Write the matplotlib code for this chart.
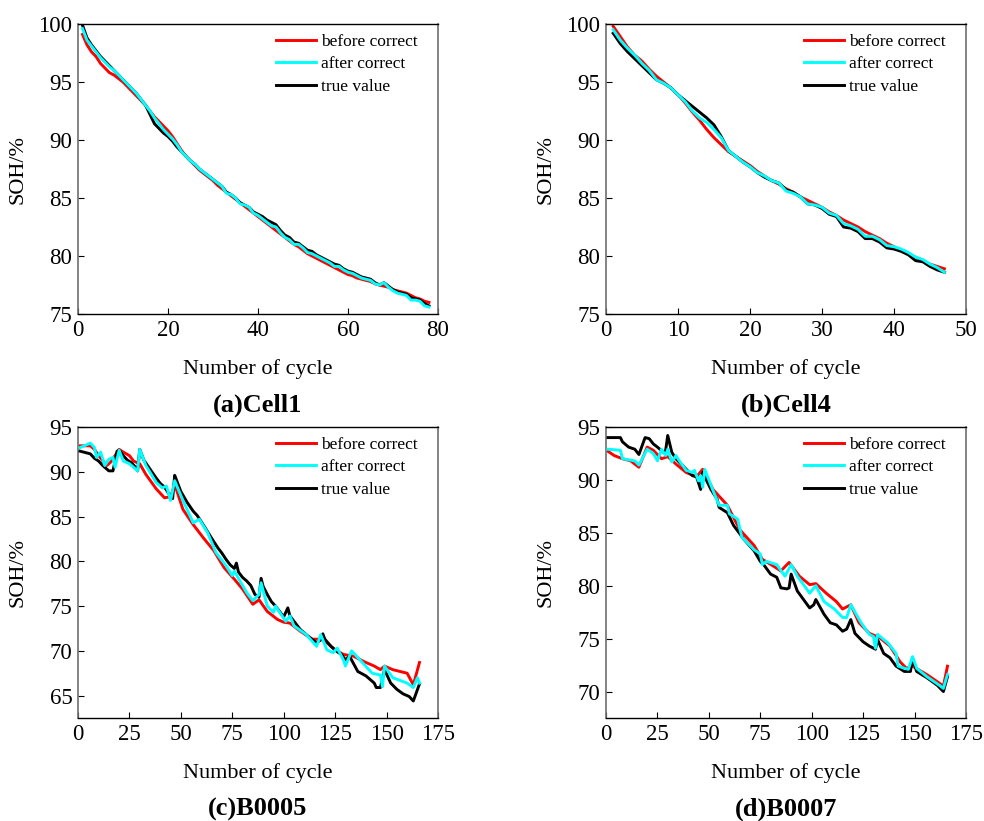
import matplotlib
matplotlib.use("Agg")
import matplotlib.pyplot as plt

plt.rcParams["font.family"] = ["Liberation Serif", "DejaVu Serif"]

## (a) Cell1
cyc_a = list(range(1, 79))
before_a = [99.1, 98.2, 97.6, 97.2, 96.6, 96.2, 95.8, 95.6, 95.3, 95.0,
            94.6, 94.2, 93.8, 93.4, 93.0, 92.5, 92.0, 91.6, 91.2, 90.8,
            90.3, 89.7, 89.1, 88.6, 88.2, 87.8, 87.4, 87.1, 86.8, 86.5,
            86.1, 85.8, 85.5, 85.2, 84.9, 84.6, 84.3, 84.0, 83.7, 83.4,
            83.1, 82.8, 82.5, 82.2, 81.9, 81.6, 81.3, 81.0, 80.8, 80.5,
            80.2, 80.0, 79.8, 79.6, 79.4, 79.2, 79.0, 78.8, 78.6, 78.4,
            78.3, 78.1, 78.0, 77.9, 77.8, 77.6, 77.5, 77.4, 77.3, 77.1,
            77.0, 76.9, 76.8, 76.6, 76.4, 76.3, 76.1, 76.0]
after_a = [99.6, 98.6, 98.1, 97.6, 97.1, 96.7, 96.3, 96.0, 95.6, 95.2,
           94.8, 94.4, 94.0, 93.5, 93.0, 92.5, 91.9, 91.4, 90.9, 90.5,
           90.1, 89.6, 89.0, 88.6, 88.2, 87.9, 87.5, 87.2, 86.9, 86.6,
           86.3, 86.0, 85.4, 85.3, 85.0, 84.5, 84.4, 84.2, 83.7, 83.5,
           83.2, 82.9, 82.6, 82.5, 82.0, 81.6, 81.4, 81.0, 81.0, 80.7,
           80.3, 80.2, 80.0, 79.8, 79.6, 79.4, 79.1, 79.1, 78.8, 78.6,
           78.5, 78.3, 78.1, 78.0, 77.9, 77.6, 77.5, 77.7, 77.3, 77.0,
           76.8, 76.7, 76.6, 76.2, 76.2, 76.1, 75.7, 75.6]
true_a = [99.9, 98.8, 98.2, 97.7, 97.2, 96.8, 96.4, 96.0, 95.6, 95.2,
          94.8, 94.4, 94.0, 93.5, 93.0, 92.2, 91.4, 91.0, 90.6, 90.3,
          89.9, 89.4, 89.0, 88.6, 88.2, 87.9, 87.5, 87.2, 86.9, 86.6,
          86.3, 86.0, 85.5, 85.3, 85.0, 84.6, 84.4, 84.2, 83.8, 83.6,
          83.4, 83.1, 82.9, 82.7, 82.2, 81.8, 81.6, 81.2, 81.1, 80.8,
          80.5, 80.4, 80.1, 79.9, 79.7, 79.5, 79.3, 79.2, 78.9, 78.7,
          78.6, 78.4, 78.2, 78.1, 78.0, 77.7, 77.5, 77.7, 77.4, 77.1,
          76.9, 76.8, 76.7, 76.4, 76.3, 76.2, 75.9, 75.7]

## (b) Cell4
cyc_b = list(range(1, 48))
before_b = [99.8, 98.9, 98.0, 97.3, 96.8, 96.1, 95.5, 95.0, 94.5, 93.9,
            93.2, 92.4, 91.7, 90.9, 90.2, 89.6, 89.0, 88.6, 88.2, 87.8,
            87.3, 86.9, 86.5, 86.2, 85.8, 85.5, 85.1, 84.8, 84.5, 84.2,
            83.8, 83.5, 83.1, 82.8, 82.5, 82.1, 81.8, 81.5, 81.1, 80.8,
            80.5, 80.2, 79.9, 79.6, 79.3, 79.1, 78.9]
after_b = [99.5, 98.6, 97.9, 97.3, 96.6, 96.0, 95.2, 94.9, 94.5, 93.9,
           93.3, 92.5, 91.9, 91.5, 90.9, 90.2, 89.1, 88.6, 88.1, 87.7,
           87.2, 86.9, 86.5, 86.3, 85.6, 85.4, 85.1, 84.5, 84.4, 84.2,
           83.7, 83.5, 82.8, 82.6, 82.3, 81.7, 81.7, 81.4, 80.9, 80.8,
           80.6, 80.3, 79.9, 79.7, 79.3, 79.0, 78.6]
true_b = [99.2, 98.3, 97.6, 97.0, 96.4, 95.8, 95.2, 94.9, 94.5, 93.9,
          93.4, 92.9, 92.4, 91.9, 91.3, 90.3, 89.1, 88.6, 88.1, 87.7,
          87.2, 86.8, 86.5, 86.3, 85.7, 85.5, 85.1, 84.5, 84.4, 84.1,
          83.6, 83.4, 82.5, 82.4, 82.1, 81.5, 81.5, 81.2, 80.7, 80.6,
          80.4, 80.1, 79.6, 79.5, 79.1, 78.8, 78.6]

## (c) B0005
cyc_c_before = [1, 6, 8, 10, 14, 16, 20, 22, 25, 27, 30, 33, 38, 42, 45, 47,
                51, 56, 61, 66, 71, 76, 80, 85, 88, 92, 97, 100, 103, 108,
                114, 119, 124, 129, 134, 139, 144, 147, 149, 153, 160, 163, 166]
before_c = [92.9, 92.9, 92.5, 91.8, 90.7, 91.1, 92.5, 92.2, 91.8, 91.2,
            90.9, 89.7, 88.1, 87.1, 87.2, 88.6, 85.8, 84.1, 82.6, 81.2,
            79.3, 78.0, 76.9, 75.2, 75.7, 74.4, 73.5, 73.2, 73.1, 72.2,
            71.3, 71.3, 70.3, 69.6, 69.4, 68.8, 68.3, 67.9, 68.3, 67.9,
            67.5, 66.2, 68.7]
cyc_c_after = [1, 6, 8, 9, 11, 13, 15, 17, 18, 20, 22, 25, 28, 29, 30, 33,
               38, 41, 43, 45, 47, 51, 56, 59, 63, 67, 72, 75, 76, 82, 85,
               88, 89, 92, 95, 96, 101, 103, 105, 111, 116, 118, 121, 124,
               126, 129, 130, 133, 137, 143, 147, 148, 149, 153, 160, 163,
               165, 166]
after_c = [92.7, 93.2, 92.7, 91.6, 92.2, 90.7, 91.4, 91.6, 90.5, 92.4,
           91.2, 90.9, 90.3, 90.1, 92.5, 90.7, 88.8, 88.2, 88.4, 86.8,
           89.0, 86.8, 84.3, 84.7, 83.2, 81.0, 79.5, 78.4, 78.9, 76.5,
           75.6, 76.3, 77.6, 75.0, 74.3, 75.0, 73.3, 73.9, 72.8, 71.8,
           70.5, 71.8, 70.1, 69.8, 70.3, 69.0, 68.3, 70.0, 69.0, 67.5,
           67.3, 66.0, 68.3, 67.0, 66.4, 65.9, 67.0, 66.4]
cyc_c_true = [1, 6, 8, 10, 12, 15, 17, 19, 20, 22, 24, 26, 28, 29, 30, 32,
              35, 38, 40, 42, 44, 46, 47, 48, 50, 53, 56, 58, 60, 63, 66,
              68, 70, 72, 74, 76, 77, 78, 80, 82, 84, 86, 88, 89, 90, 92,
              94, 96, 98, 100, 102, 103, 105, 108, 110, 113, 116, 118, 119,
              120, 123, 126, 128, 130, 132, 136, 140, 144, 145, 147, 149,
              152, 155, 158, 161, 163, 166]
true_c = [92.3, 92.0, 91.5, 91.2, 90.7, 90.1, 90.1, 92.3, 92.4, 91.8,
          91.3, 91.0, 90.5, 90.1, 92.5, 91.3, 90.3, 89.3, 88.7, 88.3,
          87.6, 87.0, 89.6, 89.0, 87.8, 86.6, 85.6, 85.1, 84.4, 83.3,
          82.2, 81.5, 80.9, 80.2, 79.6, 79.2, 79.8, 78.8, 78.2, 77.8,
          77.3, 76.3, 76.0, 78.1, 77.2, 76.3, 75.5, 75.0, 74.4, 73.8,
          74.8, 73.9, 73.3, 72.4, 72.0, 71.4, 70.9, 71.2, 71.9, 71.3,
          70.5, 69.9, 69.6, 69.0, 69.4, 67.7, 67.2, 66.4, 65.9, 65.9,
          67.9, 66.4, 65.7, 65.2, 64.9, 64.4, 66.3]

## (d) B0007
cyc_d_before = [1, 4, 8, 12, 16, 20, 23, 27, 30, 34, 39, 44, 47, 52, 59, 65,
                72, 76, 81, 85, 89, 94, 99, 102, 107, 112, 115, 119, 123,
                128, 133, 138, 143, 146, 149, 156, 162, 164, 166]
before_d = [92.7, 92.3, 92.0, 91.8, 91.2, 93.1, 92.8, 92.0, 92.2, 91.5,
            90.7, 90.3, 91.0, 89.1, 87.6, 85.3, 83.8, 82.5, 81.9, 81.4,
            82.2, 80.9, 80.1, 80.2, 79.3, 78.5, 77.8, 78.2, 76.5, 75.5,
            75.1, 74.3, 72.8, 72.2, 72.4, 71.6, 70.8, 70.5, 72.4]
cyc_d_after = [1, 7, 8, 14, 16, 20, 23, 25, 27, 29, 30, 32, 34, 36, 39, 42,
               43, 45, 46, 47, 48, 52, 55, 59, 60, 64, 66, 72, 75, 76, 78,
               83, 87, 90, 93, 99, 102, 106, 111, 115, 117, 119, 124, 128,
               130, 131, 132, 137, 141, 142, 145, 147, 149, 151, 156, 162,
               164, 166]
after_d = [92.9, 92.8, 92.0, 91.8, 91.4, 92.9, 92.5, 91.8, 92.9, 92.3,
           92.9, 91.7, 92.3, 91.7, 90.9, 90.7, 90.9, 89.9, 90.4, 89.3,
           91.0, 89.0, 87.6, 87.6, 86.8, 86.3, 84.6, 83.4, 83.0, 82.0,
           82.3, 82.0, 80.9, 82.0, 80.9, 79.3, 80.0, 78.5, 77.8, 77.0,
           77.0, 78.2, 76.5, 75.4, 75.2, 74.1, 75.4, 74.6, 73.6, 72.4,
           72.2, 72.1, 73.3, 72.2, 71.4, 70.6, 70.3, 71.6]
cyc_d_true = [1, 7, 8, 11, 14, 16, 19, 21, 23, 25, 28, 29, 30, 32, 34, 38,
              42, 44, 46, 47, 51, 54, 55, 59, 62, 67, 72, 75, 77, 80, 83,
              85, 88, 89, 90, 93, 96, 99, 101, 102, 106, 109, 112, 115,
              117, 119, 121, 125, 128, 131, 132, 135, 138, 141, 145, 148,
              149, 151, 156, 161, 164, 166]
true_d = [94.0, 94.0, 93.6, 93.1, 92.9, 92.4, 94.0, 93.9, 93.4, 93.1,
          92.6, 92.8, 94.2, 92.6, 92.0, 91.2, 90.4, 90.3, 89.1, 90.7,
          89.1, 88.2, 87.4, 86.9, 85.7, 84.4, 83.3, 82.3, 81.9, 81.1,
          80.8, 79.8, 79.7, 79.8, 81.1, 79.5, 78.7, 77.9, 78.2, 78.7,
          77.3, 76.5, 76.3, 75.7, 75.9, 76.8, 75.5, 74.7, 74.3, 74.0,
          74.9, 73.6, 73.2, 72.4, 71.9, 71.9, 73.2, 71.9, 71.3, 70.6,
          70.0, 71.4]

panels = [
    ("(a)Cell1", (cyc_a, before_a), (cyc_a, after_a), (cyc_a, true_a),
     (0, 80), range(0, 81, 20), (75, 100), range(75, 101, 5)),
    ("(b)Cell4", (cyc_b, before_b), (cyc_b, after_b), (cyc_b, true_b),
     (0, 50), range(0, 51, 10), (75, 100), range(75, 101, 5)),
    ("(c)B0005", (cyc_c_before, before_c), (cyc_c_after, after_c), (cyc_c_true, true_c),
     (0, 175), range(0, 176, 25), (62.5, 95), range(65, 96, 5)),
    ("(d)B0007", (cyc_d_before, before_d), (cyc_d_after, after_d), (cyc_d_true, true_d),
     (0, 175), range(0, 176, 25), (67.5, 95), range(70, 96, 5)),
]

W, H = 984, 821
# axes boxes in pixels: left, top, width, height
boxes = [(78, 24, 360, 290), (606, 24, 360, 290),
         (78, 427, 360, 291), (606, 427, 360, 291)]

fig = plt.figure(figsize=(W / 100, H / 100), dpi=100)

for (title, bef, aft, tru, xl, xt, yl, yt), (l, t, w, h) in zip(panels, boxes):
    ax = fig.add_axes([l / W, 1 - (t + h) / H, w / W, h / H])
    lw = 2.1
    l1, = ax.plot(bef[0], bef[1], color="#ff0000", lw=lw, zorder=2, label="before correct")
    l3, = ax.plot(tru[0], tru[1], color="black", lw=lw, zorder=3, label="true value")
    l2, = ax.plot(aft[0], aft[1], color="#00ffff", lw=lw, zorder=4, label="after correct")
    ax.set_xlim(*xl)
    ax.set_ylim(*yl)
    ax.set_xticks(list(xt))
    ax.set_yticks(list(yt))
    ax.tick_params(direction="in", length=4, width=0.8, labelsize=16.5, pad=4,
                   top=False, right=False)
    for s in ["top", "bottom"]:
        ax.spines[s].set_color("black")
        ax.spines[s].set_linewidth(1.0)
    for s in ["left", "right"]:
        ax.spines[s].set_color("#6e6e6e")
        ax.spines[s].set_linewidth(1.2)
    ax.set_xlabel("Number of cycle", fontsize=16, va="center")
    ax.xaxis.set_label_coords(0.5, -55 / h)
    ax.set_ylabel("SOH/%", fontsize=16, va="center")
    ax.yaxis.set_label_coords(-60 / w, 0.5)
    ax.text(0.5, -91 / h, title, transform=ax.transAxes, ha="center", va="center",
            fontsize=19, fontweight="bold")
    ax.legend(handles=[l1, l2, l3], loc="upper right",
              bbox_to_anchor=(1 - 20 / w, 1 - 10 / h), frameon=False,
              fontsize=12.5, borderpad=0, borderaxespad=0, handlelength=2.3,
              handletextpad=0.3, labelspacing=0.35)

fig.savefig("out.png", dpi=100)
